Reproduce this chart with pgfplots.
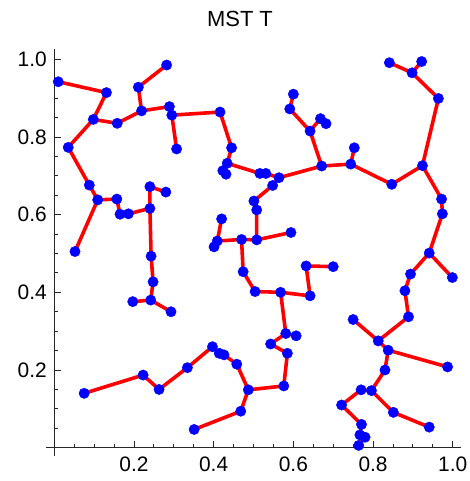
\documentclass[border=0pt]{standalone}
\usepackage{pgfplots}
\pgfplotsset{compat=1.18}
\usepackage{fontspec}
\setmainfont{Liberation Sans}
\begin{document}
\begin{tikzpicture}[x=1bp,y=1bp]
\path[use as bounding box] (-46.3,-25.5) rectangle (423.7,455.5);
\begin{axis}[at={(0,0)}, anchor=south west, scale only axis,
  width=414.4bp, height=406bp,
  xmin=-0.02, xmax=1.02, ymin=-0.02, ymax=1.025,
  axis lines=middle,
  axis line style={-, black!85, line width=0.8pt},
  every inner x axis line/.append style={-},
  every inner y axis line/.append style={-},
  xtick={0.2,0.4,0.6,0.8,1.0}, ytick={0.2,0.4,0.6,0.8,1.0},
  minor xtick={0.05,0.1,0.15,0.25,0.3,0.35,0.45,0.5,0.55,0.65,0.7,0.75,0.85,0.9,0.95},
  minor ytick={0.05,0.1,0.15,0.25,0.3,0.35,0.45,0.5,0.55,0.65,0.7,0.75,0.85,0.9,0.95},
  tick align=inside, major tick length=6.5bp, minor tick length=4bp,
  tick style={black!85, line width=0.8pt},
  /pgf/number format/assume math mode=true,
  /pgf/number format/.cd, fixed, fixed zerofill, precision=1, /pgfplots/.cd,
  ticklabel style={font=\fontsize{21}{24}\selectfont},
  xticklabel style={yshift=-6bp},
  yticklabel style={xshift=-4bp},
  clip=false,
]
\addplot[red, line width=3.6pt, line join=round, unbounded coords=jump] table {
x y
0.010 0.942
0.131 0.914
0.098 0.845
0.158 0.835
0.219 0.867
0.211 0.928
0.282 0.985
nan nan
0.219 0.867
0.289 0.878
0.295 0.856
0.307 0.769
nan nan
0.295 0.856
0.416 0.864
0.445 0.772
0.434 0.732
0.423 0.713
0.431 0.704
nan nan
0.098 0.845
0.035 0.773
0.088 0.676
0.109 0.638
0.052 0.505
nan nan
0.109 0.638
0.157 0.640
0.165 0.601
0.186 0.602
0.240 0.616
0.243 0.493
0.248 0.427
0.242 0.380
0.197 0.376
nan nan
0.240 0.616
0.240 0.672
0.280 0.658
nan nan
0.242 0.380
0.293 0.350
nan nan
0.434 0.732
0.516 0.706
0.531 0.706
0.564 0.695
0.548 0.675
0.501 0.635
0.508 0.612
0.508 0.535
0.470 0.536
0.474 0.453
0.504 0.402
0.568 0.400
0.642 0.391
0.632 0.468
0.700 0.466
nan nan
0.508 0.535
0.594 0.554
nan nan
0.470 0.536
0.409 0.532
0.420 0.589
nan nan
0.409 0.532
0.401 0.517
nan nan
0.564 0.695
0.671 0.725
0.642 0.815
0.591 0.872
0.600 0.910
nan nan
0.642 0.815
0.668 0.847
0.682 0.834
nan nan
0.568 0.400
0.581 0.294
0.543 0.267
0.585 0.243
0.576 0.159
0.487 0.149
0.468 0.094
0.351 0.047
nan nan
0.581 0.294
0.607 0.288
nan nan
0.487 0.149
0.458 0.215
0.426 0.239
0.414 0.243
0.397 0.260
0.334 0.206
0.263 0.150
0.223 0.187
0.075 0.140
nan nan
0.671 0.725
0.744 0.730
0.753 0.772
nan nan
0.744 0.730
0.847 0.678
0.924 0.726
0.964 0.899
0.898 0.965
0.841 0.991
nan nan
0.898 0.965
0.922 0.994
nan nan
0.924 0.726
0.972 0.640
0.974 0.602
0.941 0.501
0.999 0.438
nan nan
0.941 0.501
0.894 0.447
0.880 0.404
0.889 0.337
0.813 0.275
0.750 0.330
nan nan
0.813 0.275
0.838 0.251
0.987 0.208
nan nan
0.838 0.251
0.830 0.200
0.796 0.147
0.770 0.149
0.721 0.110
0.771 0.060
0.767 0.033
0.780 0.027
0.764 0.006
nan nan
0.796 0.147
0.851 0.091
0.941 0.053
};
\addplot[only marks, mark=*, mark size=5.2pt, blue, mark options={draw=blue, fill=blue}] table {
x y
0.010 0.942
0.131 0.914
0.098 0.845
0.158 0.835
0.219 0.867
0.211 0.928
0.282 0.985
0.289 0.878
0.295 0.856
0.307 0.769
0.035 0.773
0.088 0.676
0.109 0.638
0.052 0.505
0.157 0.640
0.165 0.601
0.186 0.602
0.240 0.616
0.240 0.672
0.280 0.658
0.243 0.493
0.248 0.427
0.242 0.380
0.197 0.376
0.293 0.350
0.416 0.864
0.445 0.772
0.434 0.732
0.423 0.713
0.431 0.704
0.516 0.706
0.531 0.706
0.564 0.695
0.548 0.675
0.671 0.725
0.600 0.910
0.591 0.872
0.642 0.815
0.668 0.847
0.682 0.834
0.841 0.991
0.922 0.994
0.898 0.965
0.964 0.899
0.924 0.726
0.744 0.730
0.753 0.772
0.847 0.678
0.972 0.640
0.974 0.602
0.941 0.501
0.999 0.438
0.894 0.447
0.880 0.404
0.889 0.337
0.700 0.466
0.750 0.330
0.813 0.275
0.838 0.251
0.987 0.208
0.830 0.200
0.796 0.147
0.770 0.149
0.721 0.110
0.851 0.091
0.941 0.053
0.771 0.060
0.767 0.033
0.780 0.027
0.764 0.006
0.501 0.635
0.508 0.612
0.508 0.535
0.594 0.554
0.470 0.536
0.409 0.532
0.401 0.517
0.420 0.589
0.474 0.453
0.504 0.402
0.568 0.400
0.642 0.391
0.632 0.468
0.581 0.294
0.607 0.288
0.543 0.267
0.585 0.243
0.576 0.159
0.487 0.149
0.468 0.094
0.351 0.047
0.458 0.215
0.397 0.260
0.414 0.243
0.426 0.239
0.334 0.206
0.075 0.140
0.223 0.187
0.263 0.150
};
\end{axis}
\node[font=\fontsize{22}{26}\selectfont] at (193.7,436.5) {MST T};
\end{tikzpicture}
\end{document}
